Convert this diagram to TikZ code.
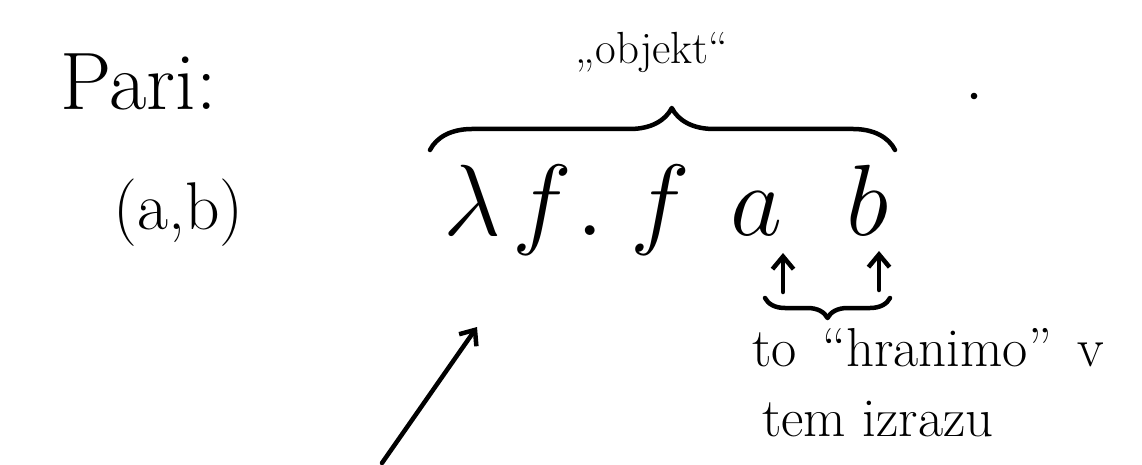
\RequirePackage{fix-cm}
\documentclass[tikz,border=0pt]{standalone}
\usetikzlibrary{arrows.meta,decorations.pathreplacing}
\begin{document}
\begin{tikzpicture}[x=0.025cm,y=-0.025cm,
  pen/.style={line width=3.2pt,line cap=round,line join=round},
  tipped/.style={-{Straight Barb[length=9pt,width=15pt,line width=3.2pt]}},
  word/.style={inner sep=0pt,anchor=base west},
  sym/.style={inner sep=0pt,anchor=base,font=\fontsize{72}{86}\selectfont}]
\useasboundingbox (0,0) rectangle (1142,465);

% titles
\node[word,font=\fontsize{58}{70}\selectfont] (pari) at (60,110) {Pari:};
\node[word,font=\fontsize{48}{58}\selectfont] (pair) at (113,230) {(a,b)};

% lambda term
\node[sym] (lam) at (472,235) {$\lambda$};
\node[sym] (f1)  at (542,235) {$f$};
\node[sym] (dot) at (590,235) {$.$};
\node[sym] (f2)  at (660,235) {$f$};
\node[sym] (a)   at (757,235) {$a$};
\node[sym] (b)   at (868,235) {$b$};

% big brace and its label
\coordinate (bl) at (430,150);
\coordinate (br) at (895,150);
\draw[pen,decorate,decoration={brace,amplitude=1.05cm,aspect=0.52}] (bl) -- (br);
\node[inner sep=0pt,anchor=base,font=\fontsize{32}{38}\selectfont] (obj) at (652,64) {„objekt“};

% stray dot
\fill (974,96) circle (3.3);

% arrows under a and b
\coordinate (a0) at (783,292);
\coordinate (a1) at (783,253);
\coordinate (b0) at (879,290);
\coordinate (b1) at (879,251);
\draw[pen,tipped] (a0) -- (a1);
\draw[pen,tipped] (b0) -- (b1);

% small brace
\coordinate (sl) at (765,298);
\coordinate (sr) at (890,298);
\draw[pen,decorate,decoration={brace,mirror,amplitude=0.5cm,aspect=0.5}] (sl) -- (sr);

% explanation
\node[word,font=\fontsize{39}{47}\selectfont] (t1) at (752,366) {to \,“hranimo” \,v};
\node[word,font=\fontsize{39}{47}\selectfont] (t2) at (762,436) {tem izrazu};

% long arrow
\coordinate (p0) at (382,463);
\coordinate (p1) at (477,327);
\draw[pen,tipped] (p0) -- (p1);
\end{tikzpicture}
\end{document}
